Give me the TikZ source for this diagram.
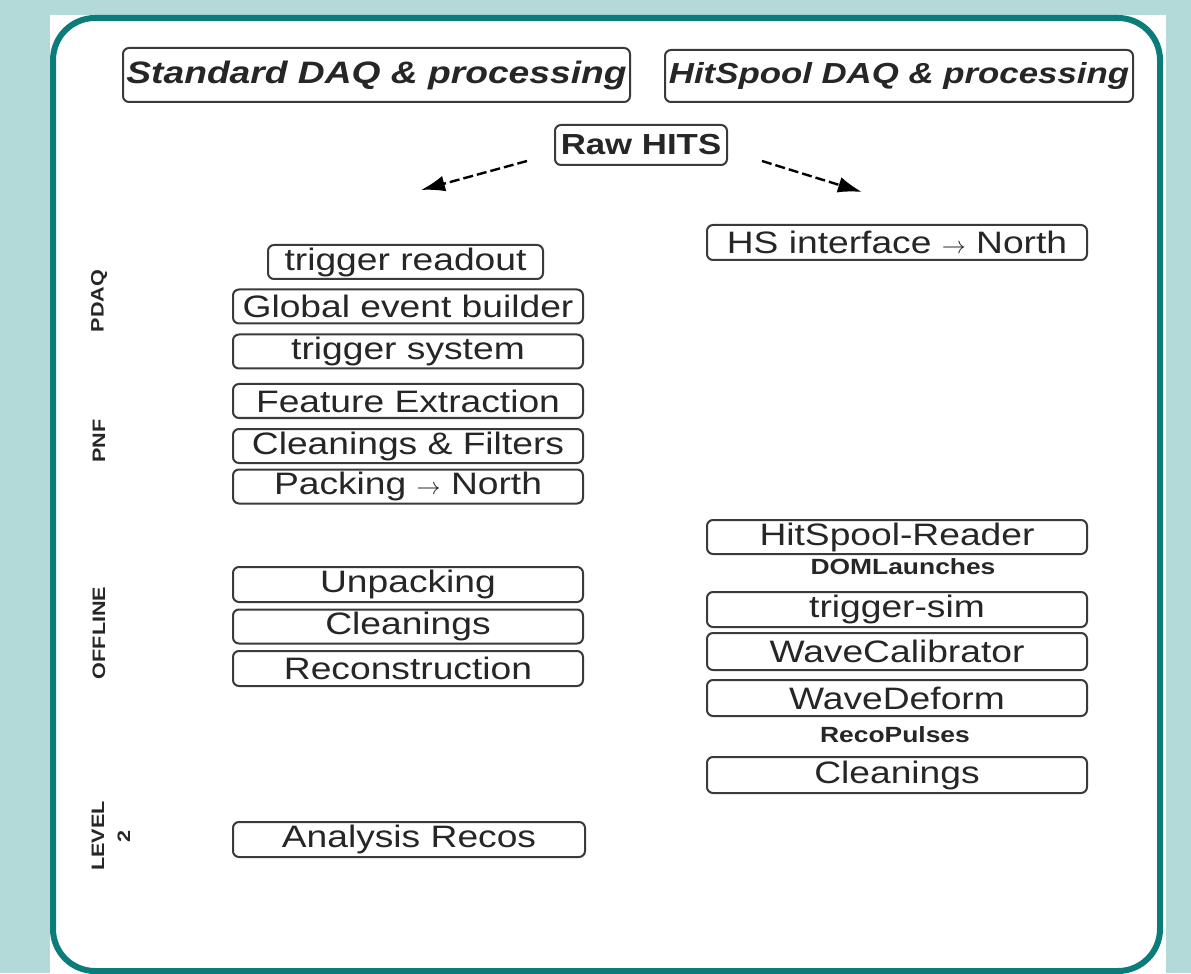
\documentclass[tikz,border=0pt]{standalone}
\usepackage{fontspec}
\setmainfont{Liberation Sans}[FakeStretch=1.2]
\usepackage{xcolor}
\definecolor{backteal}{HTML}{B3DAD9}
\definecolor{frameteal}{HTML}{0A7C79}
\definecolor{boxgray}{HTML}{3A3A3A}
\definecolor{inkgray}{HTML}{262626}
\usepackage{tikz}
\usetikzlibrary{arrows.meta}
\tikzset{
  stagebox/.style={draw=boxgray, line width=1pt, rounded corners=3pt,
    minimum height=17pt, inner sep=0pt, text=inkgray,
    font=\fontsize{15.5}{16}\selectfont},
  headbox/.style={stagebox, font=\fontsize{15.5}{16}\selectfont\bfseries\itshape},
  rawbox/.style={stagebox, minimum height=20pt, font=\fontsize{14.5}{15}\selectfont\bfseries},
  datalbl/.style={inner sep=0pt, text=inkgray, font=\fontsize{11}{11}\selectfont\bfseries},
  sidelbl/.style={rotate=90, align=center, inner sep=0pt, text=inkgray,
    font=\fontsize{9}{13}\selectfont\bfseries},
  hitarrow/.style={-{Latex[length=12pt,width=8pt]}, line width=1.2pt,
    dash pattern=on 5pt off 2pt},
}
\newcommand{\tonorth}{{\fontsize{12}{12}\selectfont$\rightarrow$}}

\begin{document}
\begin{tikzpicture}[x=0.5pt, y=-0.5pt]
% backdrop, white panel and teal frame
\fill[backteal] (0,0) rectangle (1191,973);
\fill[white] (50,15) rectangle (1166,973);
\draw[frameteal, line width=3pt, rounded corners=21pt] (53,18) rectangle (1160,971);

% titles
\node[headbox, minimum width=253.5pt, minimum height=27pt] (stdtitle) at (376.5,75) {Standard DAQ \& processing};
\node[headbox, minimum width=234pt, minimum height=26pt,
  font=\fontsize{14.5}{15}\selectfont\bfseries\itshape] (hstitle) at (899,76) {HitSpool DAQ \& processing};
\node[rawbox, minimum width=86pt] (raw) at (641,145) {Raw HITS};

% split of the raw hits
\coordinate (ltail) at (527,161);
\coordinate (lhead) at (421,190);
\coordinate (rtail) at (762,161);
\coordinate (rhead) at (862,192);
\draw[hitarrow] (ltail) -- (lhead);
\draw[hitarrow] (rtail) -- (rhead);

% standard chain
\node[stagebox, minimum width=137.5pt] (trigro) at (405.5,262) {trigger readout};
\node[stagebox, minimum width=175pt] (evbuild) at (408,306.5) {Global event builder};
\node[stagebox, minimum width=175pt] (trigsys) at (408,351.5) {trigger system};
\node[stagebox, minimum width=175pt] (featx) at (408,401) {Feature Extraction};
\node[stagebox, minimum width=175pt] (filters) at (408,446) {Cleanings \& Filters};
\node[stagebox, minimum width=175pt] (packing) at (408,486.5) {Packing \tonorth{} North};
\node[stagebox, minimum width=175pt, minimum height=17.5pt] (unpack) at (408,584.5) {Unpacking};
\node[stagebox, minimum width=175pt] (offclean) at (408,626.5) {Cleanings};
\node[stagebox, minimum width=175pt, minimum height=17.5pt] (reco) at (408,668.5) {Reconstruction};
\node[stagebox, minimum width=176pt, minimum height=17.5pt] (anareco) at (409,839.5) {Analysis Recos};

% stage names
\node[sidelbl] (pdaq) at (99,301) {PDAQ};
\node[sidelbl] (pnf) at (99,441) {PNF};
\node[sidelbl] (offline) at (99,633) {OFFLINE};
\node[sidelbl] (level2) at (111,836) {LEVEL\\2};

% hitspool chain
\node[stagebox, minimum width=190pt, minimum height=17.5pt] (hsif) at (897,242.5) {HS interface \tonorth{} North};
\node[stagebox, minimum width=190pt] (hsread) at (897,537) {HitSpool-Reader};
\node[datalbl] (domlaunch) at (903,567) {DOMLaunches};
\node[stagebox, minimum width=190pt, minimum height=17.5pt] (trigsim) at (897,609.5) {trigger-sim};
\node[stagebox, minimum width=190pt, minimum height=18.5pt] (wavecal) at (897,651.5) {WaveCalibrator};
\node[stagebox, minimum width=190pt, minimum height=18pt] (wavedef) at (897,698) {WaveDeform};
\node[datalbl] (recopulse) at (895,735) {RecoPulses};
\node[stagebox, minimum width=190pt, minimum height=18pt] (hsclean) at (897,775) {Cleanings};
\end{tikzpicture}
\end{document}
